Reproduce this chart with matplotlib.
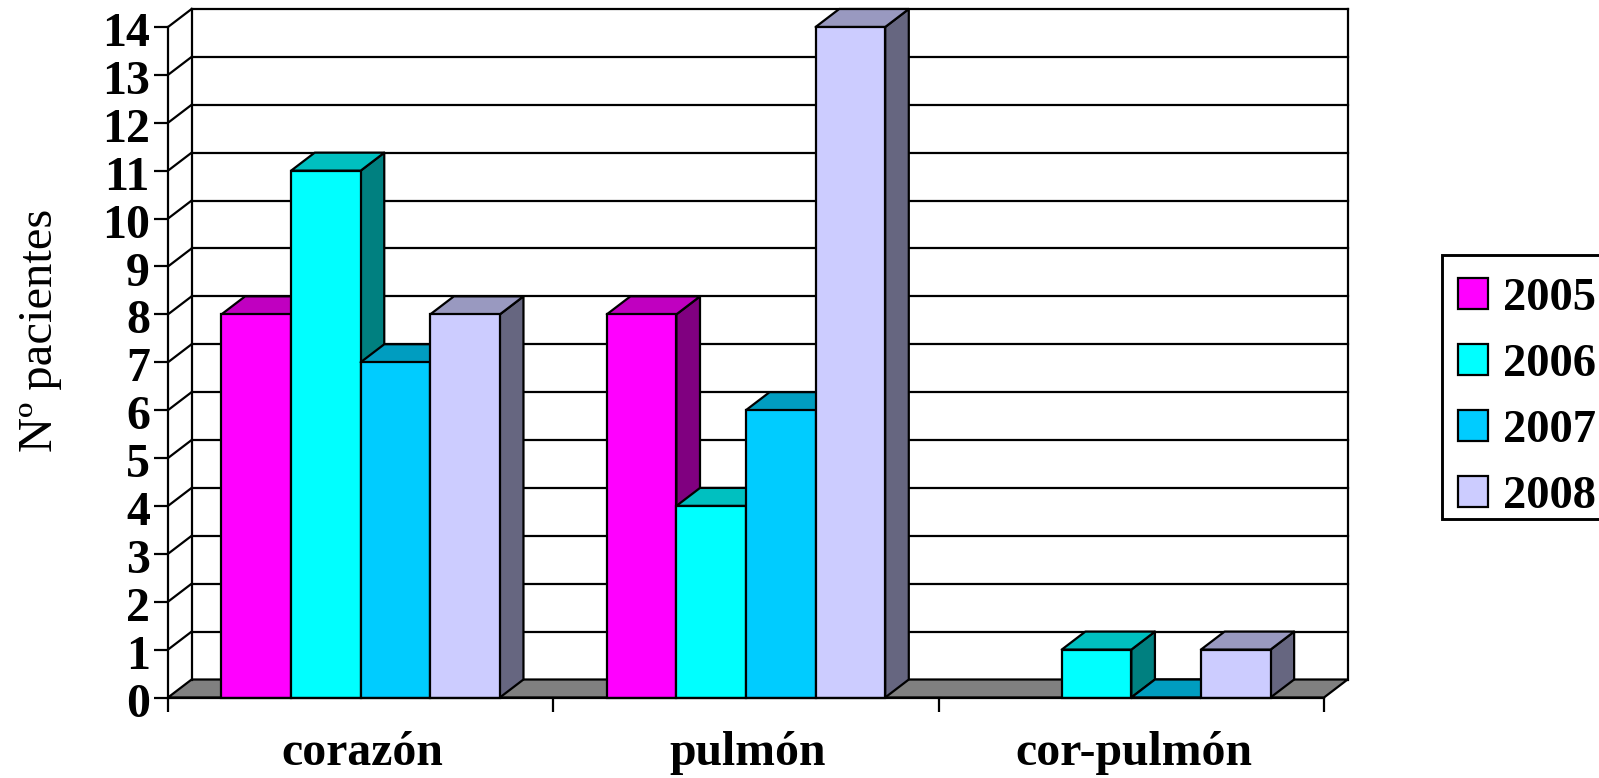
#!/usr/bin/env python3
# -*- coding: utf-8 -*-

import numpy as np
import matplotlib
matplotlib.use('agg')
import matplotlib.pyplot as plt
from matplotlib.patches import Polygon, Patch, Rectangle
from matplotlib.ticker import FixedLocator, FixedFormatter, NullFormatter
from matplotlib.transforms import ScaledTranslation

categories = ['corazón', 'pulmón', 'cor-pulmón']
years = ['2005', '2006', '2007', '2008']
# nan: no bar at all for that year (2007 cor-pulmón is a real zero)
values_2005 = [8, 8, np.nan]
values_2006 = [11, 4, 1]
values_2007 = [7, 6, 0]
values_2008 = [8, 14, 1]
series = [values_2005, values_2006, values_2007, values_2008]

front_colors = ['#FF00FF', '#00FFFF', '#00CCFF', '#CCCCFF']
top_colors = ['#C000C0', '#00C0C0', '#009DC0', '#9999C0']
side_colors = ['#800080', '#008080', '#006680', '#666680']

W, H = 1599, 778
LW = 1.6

fig = plt.figure(figsize=(W / 100, H / 100), dpi=100)
plt.rcParams['font.family'] = ['Liberation Serif']
ax = fig.add_axes([168 / W, 1 - 697.5 / H, (1324 - 168) / W, (697.5 - 27) / H])
ax.set_xlim(0, 3)
ax.set_ylim(0, 14)

# depth of the fake 3D box, in data units
dx = 23.6 / (1156 / 3)
dy = 18 / (670.5 / 14)
bar_w = 69.6 / (1156 / 3)
y_max = 14


def poly(points, color, z):
    ax.add_patch(Polygon(points, closed=True, facecolor=color, edgecolor='black',
                         linewidth=LW, clip_on=False, zorder=z, joinstyle='round'))


# Floor, walls and grid
poly([(0, 0), (3, 0), (3 + dx, dy), (dx, dy)], '#808080', 1)
for v in range(1, y_max + 1):
    ax.plot([dx, 3 + dx], [v + dy, v + dy], color='black', lw=LW, clip_on=False, zorder=1)
    ax.plot([0, dx], [v, v + dy], color='black', lw=LW, clip_on=False, zorder=1)
ax.plot([dx, dx], [dy, y_max + dy], color='black', lw=LW, clip_on=False, zorder=1)
ax.plot([3 + dx, 3 + dx], [dy, y_max + dy], color='black', lw=LW, clip_on=False, zorder=1)

# Bars, left to right so every front hides the side of the previous one
z = 2
for c in range(len(categories)):
    start = c + 0.5 - 2 * bar_w
    for s, vals in enumerate(series):
        v = vals[c]
        if np.isnan(v):
            continue
        x0 = start + s * bar_w
        x1 = x0 + bar_w
        poly([(x1, 0), (x1 + dx, dy), (x1 + dx, v + dy), (x1, v)], side_colors[s], z)
        poly([(x0, v), (x1, v), (x1 + dx, v + dy), (x0 + dx, v + dy)], top_colors[s], z)
        ax.bar(x0, v, width=bar_w, align='edge', color=front_colors[s], edgecolor='black',
               linewidth=LW, clip_on=False, zorder=z)
        z += 1

for side in ['top', 'right']:
    ax.spines[side].set_visible(False)
for side in ['left', 'bottom']:
    ax.spines[side].set_linewidth(LW)
    ax.spines[side].set_zorder(30)
ax.patch.set_visible(False)

ax.set_yticks(range(0, y_max + 1))
ax.tick_params(axis='y', length=10, width=LW, pad=3)
shift_down = ScaledTranslation(0, -1.5 / 72, fig.dpi_scale_trans)
for label in ax.get_yticklabels():
    label.set_fontsize(34.5)
    label.set_fontweight('bold')
    label.set_transform(label.get_transform() + shift_down)

ax.xaxis.set_major_locator(FixedLocator([0, 1, 2, 3]))
ax.xaxis.set_major_formatter(NullFormatter())
ax.xaxis.set_minor_locator(FixedLocator([0.5, 1.5, 2.5]))
ax.xaxis.set_minor_formatter(FixedFormatter(categories))
ax.tick_params(axis='x', which='major', length=10, width=LW)
ax.tick_params(axis='x', which='minor', length=0, pad=24)
shift_right = ScaledTranslation(1.5 / 72, 0, fig.dpi_scale_trans)
for label in ax.xaxis.get_minorticklabels():
    label.set_fontsize(34.4)
    label.set_fontweight('bold')
    label.set_transform(label.get_transform() + shift_right)

fig.text(40 / W, 1 - 330 / H, 'Nº pacientes', rotation=90, ha='center', va='center', fontsize=35)

# Legend box runs past the right edge of the picture, as in the original
fig.add_artist(Rectangle((1441.7 / W, 1 - 519 / H), 300 / W, 264 / H, transform=fig.transFigure,
                         facecolor='white', edgecolor='black', linewidth=LW * 1.3))
handles = [Patch(facecolor=c, edgecolor='black', linewidth=LW) for c in front_colors]
fig.legend(handles, years, loc='upper left', bbox_to_anchor=(1457.5 / W, 1 - 278 / H),
           borderaxespad=0, frameon=False,
           prop={'family': 'Liberation Serif', 'weight': 'bold', 'size': 33.5},
           handlelength=0.65, handleheight=0.65, handletextpad=0.33, labelspacing=0.515,
           borderpad=0)

fig.savefig('out.png', dpi=100)
